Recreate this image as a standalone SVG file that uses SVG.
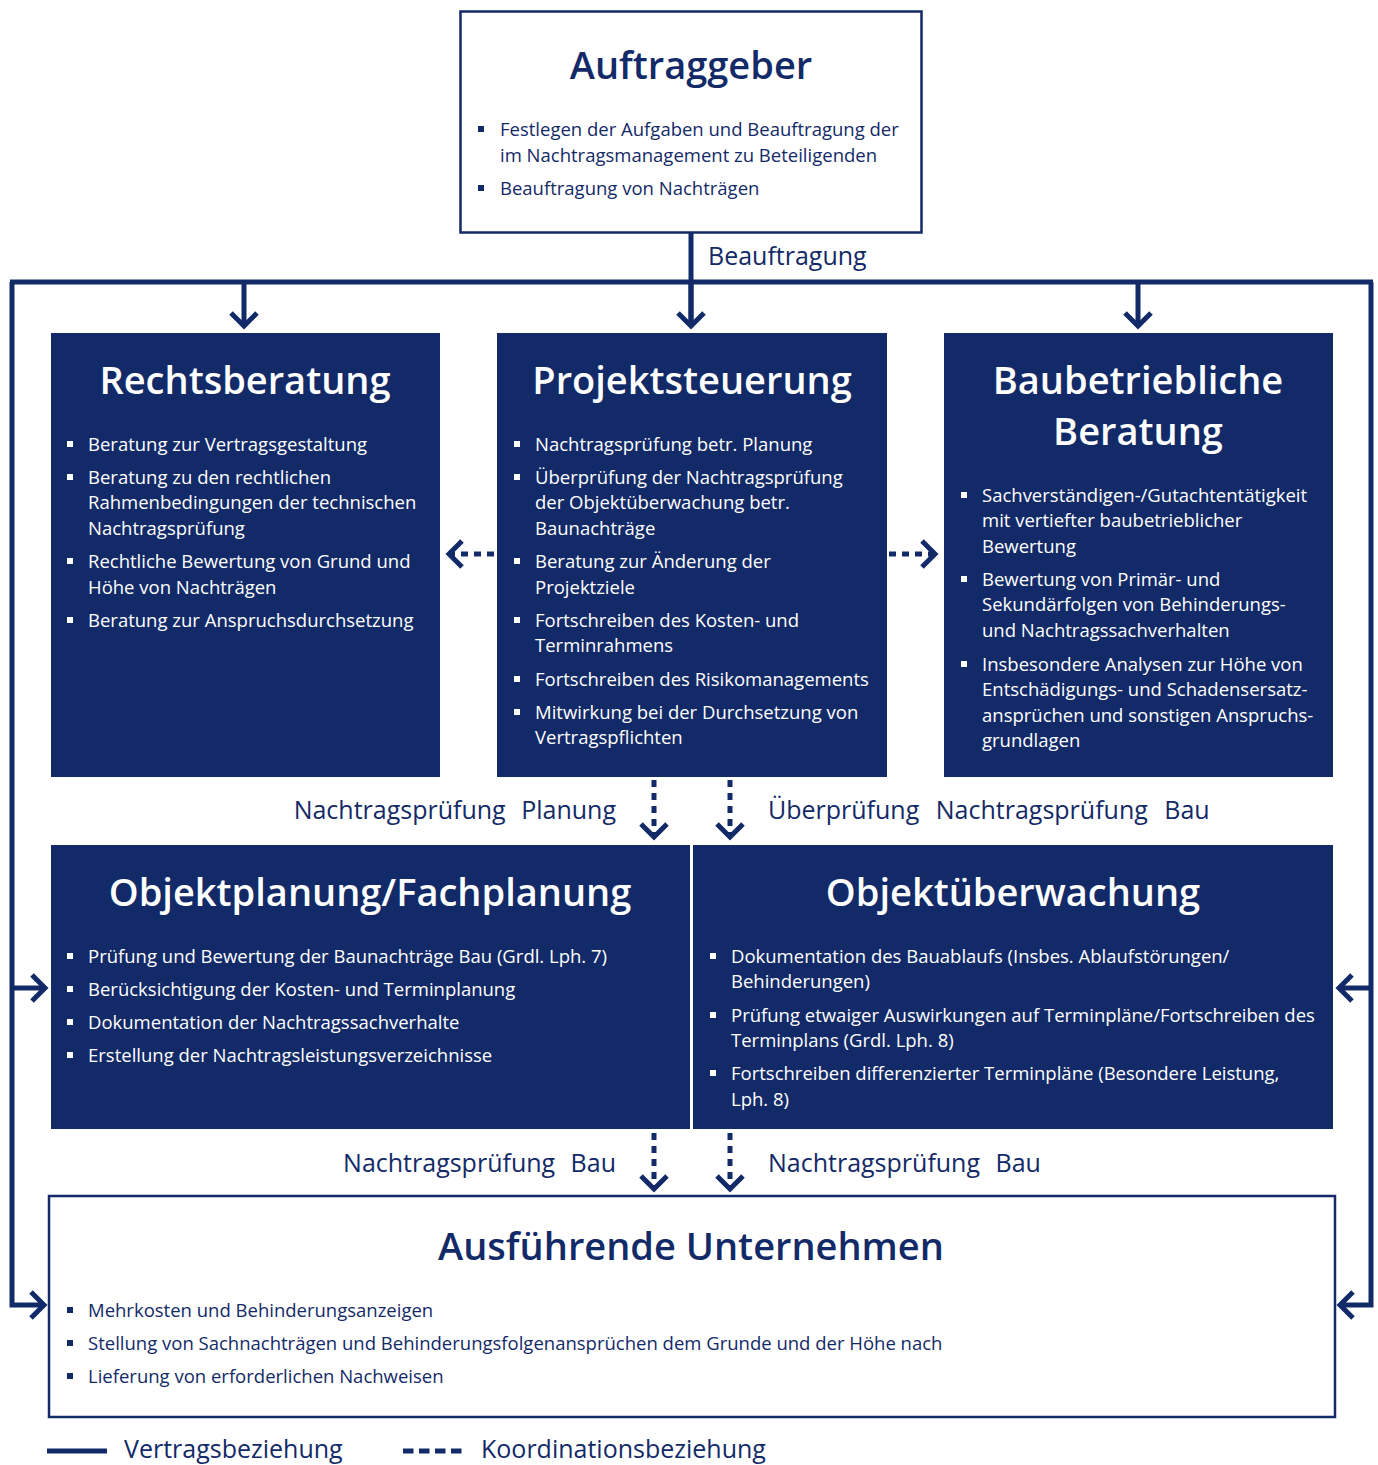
<svg xmlns="http://www.w3.org/2000/svg" width="1378" height="1465" viewBox="0 0 1378 1465">
<style>
.box{fill:#132a68}
.wbox{fill:#fff;stroke:#132a68;stroke-width:2.5}
.ttl{font-family:"Open Sans","Noto Sans",sans-serif;font-size:38px;font-weight:600;text-anchor:middle}
.tw{fill:#fff}
.tn{fill:#132a68}
.b{font-family:"Open Sans","Noto Sans",sans-serif;font-size:18.5px;font-weight:400}
.lbl{font-family:"Open Sans","Noto Sans",sans-serif;font-size:25px;font-weight:400;fill:#132a68}
.ln{fill:none;stroke:#132a68;stroke-width:5}
.dl{fill:none;stroke:#132a68;stroke-width:5;stroke-dasharray:7 6}
.sqw{fill:#fff}
.sqn{fill:#132a68}
</style>
<defs>
<marker id="ah" markerUnits="userSpaceOnUse" markerWidth="40" markerHeight="40" refX="0" refY="0" viewBox="-20 -20 40 40" orient="auto" overflow="visible">
<path d="M-13,-13 L0,0 L-13,13" fill="none" stroke="#132a68" stroke-width="5" stroke-linejoin="miter"/>
</marker>
</defs>

<g id="connectors">
<path class="ln" d="M691,233 V326"/>
<path class="ln" d="M10,282 H1373"/>
<path class="ln" d="M244,282 V326" marker-end="url(#ah)"/>
<path class="ln" d="M691,282 V326" marker-end="url(#ah)"/>
<path class="ln" d="M1138,282 V326" marker-end="url(#ah)"/>
<path class="ln" d="M12,282 V1305 H44" marker-end="url(#ah)"/>
<path class="ln" d="M12,988 H45" marker-end="url(#ah)"/>
<path class="ln" d="M1371,282 V1305 H1340" marker-end="url(#ah)"/>
<path class="ln" d="M1371,988 H1339" marker-end="url(#ah)"/>
<path class="dl" d="M494,554 H449" marker-end="url(#ah)"/>
<path class="dl" d="M889,554 H935" marker-end="url(#ah)"/>
<path class="dl" d="M654,780 V837" marker-end="url(#ah)"/>
<path class="dl" d="M730,780 V837" marker-end="url(#ah)"/>
<path class="dl" d="M654,1133 V1189" marker-end="url(#ah)"/>
<path class="dl" d="M730,1133 V1189" marker-end="url(#ah)"/>
<text class="lbl" x="708" y="265">Beauftragung</text>
<text class="lbl" x="616" y="819" text-anchor="end" word-spacing="9">Nachtragsprüfung Planung</text>
<text class="lbl" x="768" y="819" word-spacing="10">Überprüfung Nachtragsprüfung Bau</text>
<text class="lbl" x="616" y="1172" text-anchor="end" word-spacing="9">Nachtragsprüfung Bau</text>
<text class="lbl" x="768" y="1172" word-spacing="9">Nachtragsprüfung Bau</text>
</g>

<g id="auftraggeber">
<rect class="wbox" x="460.5" y="11.5" width="461" height="221"/>
<text class="ttl tn" x="691" y="79">Auftraggeber</text>
<g class="b tn">
<rect class="sqn" x="478" y="126" width="6" height="6"/>
<text x="500" y="136">Festlegen der Aufgaben und Beauftragung der</text>
<text x="500" y="162">im Nachtragsmanagement zu Beteiligenden</text>
<rect class="sqn" x="478" y="185" width="6" height="6"/>
<text x="500" y="195">Beauftragung von Nachträgen</text>
</g>
</g>

<g id="rechtsberatung">
<rect class="box" x="51" y="333" width="389" height="444"/>
<text class="ttl tw" x="245" y="394">Rechtsberatung</text>
<g class="b tw">
<rect class="sqw" x="67" y="441" width="6" height="6"/>
<text x="88" y="451">Beratung zur Vertragsgestaltung</text>
<rect class="sqw" x="67" y="474" width="6" height="6"/>
<text x="88" y="484">Beratung zu den rechtlichen</text>
<text x="88" y="509">Rahmenbedingungen der technischen</text>
<text x="88" y="535">Nachtragsprüfung</text>
<rect class="sqw" x="67" y="558" width="6" height="6"/>
<text x="88" y="568">Rechtliche Bewertung von Grund und</text>
<text x="88" y="594">Höhe von Nachträgen</text>
<rect class="sqw" x="67" y="617" width="6" height="6"/>
<text x="88" y="627">Beratung zur Anspruchsdurchsetzung</text>
</g>
</g>

<g id="projektsteuerung">
<rect class="box" x="497" y="333" width="390" height="444"/>
<text class="ttl tw" x="692" y="394">Projektsteuerung</text>
<g class="b tw">
<rect class="sqw" x="514" y="441" width="6" height="6"/>
<text x="535" y="451">Nachtragsprüfung betr. Planung</text>
<rect class="sqw" x="514" y="474" width="6" height="6"/>
<text x="535" y="484">Überprüfung der Nachtragsprüfung</text>
<text x="535" y="509">der Objektüberwachung betr.</text>
<text x="535" y="535">Baunachträge</text>
<rect class="sqw" x="514" y="558" width="6" height="6"/>
<text x="535" y="568">Beratung zur Änderung der</text>
<text x="535" y="594">Projektziele</text>
<rect class="sqw" x="514" y="617" width="6" height="6"/>
<text x="535" y="627">Fortschreiben des Kosten- und</text>
<text x="535" y="652">Terminrahmens</text>
<rect class="sqw" x="514" y="676" width="6" height="6"/>
<text x="535" y="686">Fortschreiben des Risikomanagements</text>
<rect class="sqw" x="514" y="709" width="6" height="6"/>
<text x="535" y="719">Mitwirkung bei der Durchsetzung von</text>
<text x="535" y="744">Vertragspflichten</text>
</g>
</g>

<g id="baubetriebliche-beratung">
<rect class="box" x="944" y="333" width="389" height="444"/>
<text class="ttl tw" x="1138" y="394">Baubetriebliche</text>
<text class="ttl tw" x="1138" y="445">Beratung</text>
<g class="b tw">
<rect class="sqw" x="961" y="492" width="6" height="6"/>
<text x="982" y="502">Sachverständigen-/Gutachtentätigkeit</text>
<text x="982" y="527">mit vertiefter baubetrieblicher</text>
<text x="982" y="553">Bewertung</text>
<rect class="sqw" x="961" y="576" width="6" height="6"/>
<text x="982" y="586">Bewertung von Primär- und</text>
<text x="982" y="611">Sekundärfolgen von Behinderungs-</text>
<text x="982" y="637">und Nachtragssachverhalten</text>
<rect class="sqw" x="961" y="661" width="6" height="6"/>
<text x="982" y="671">Insbesondere Analysen zur Höhe von</text>
<text x="982" y="696">Entschädigungs- und Schadensersatz-</text>
<text x="982" y="722">ansprüchen und sonstigen Anspruchs-</text>
<text x="982" y="747">grundlagen</text>
</g>
</g>

<g id="objektplanung">
<rect class="box" x="51" y="845" width="639" height="284"/>
<text class="ttl tw" x="370" y="906">Objektplanung/Fachplanung</text>
<g class="b tw">
<rect class="sqw" x="67" y="953" width="6" height="6"/>
<text x="88" y="963">Prüfung und Bewertung der Baunachträge Bau (Grdl. Lph. 7)</text>
<rect class="sqw" x="67" y="986" width="6" height="6"/>
<text x="88" y="996">Berücksichtigung der Kosten- und Terminplanung</text>
<rect class="sqw" x="67" y="1019" width="6" height="6"/>
<text x="88" y="1029">Dokumentation der Nachtragssachverhalte</text>
<rect class="sqw" x="67" y="1052" width="6" height="6"/>
<text x="88" y="1062">Erstellung der Nachtragsleistungsverzeichnisse</text>
</g>
</g>

<g id="objektueberwachung">
<rect class="box" x="693" y="845" width="640" height="284"/>
<text class="ttl tw" x="1013" y="906">Objektüberwachung</text>
<g class="b tw">
<rect class="sqw" x="710" y="953" width="6" height="6"/>
<text x="731" y="963">Dokumentation des Bauablaufs (Insbes. Ablaufstörungen/</text>
<text x="731" y="988">Behinderungen)</text>
<rect class="sqw" x="710" y="1012" width="6" height="6"/>
<text x="731" y="1022">Prüfung etwaiger Auswirkungen auf Terminpläne/Fortschreiben des</text>
<text x="731" y="1047">Terminplans (Grdl. Lph. 8)</text>
<rect class="sqw" x="710" y="1070" width="6" height="6"/>
<text x="731" y="1080">Fortschreiben differenzierter Terminpläne (Besondere Leistung,</text>
<text x="731" y="1106">Lph. 8)</text>
</g>
</g>

<g id="ausfuehrende-unternehmen">
<rect class="wbox" x="49" y="1196" width="1286" height="221"/>
<text class="ttl tn" x="691" y="1260">Ausführende Unternehmen</text>
<g class="b tn">
<rect class="sqn" x="67" y="1307" width="6" height="6"/>
<text x="88" y="1317">Mehrkosten und Behinderungsanzeigen</text>
<rect class="sqn" x="67" y="1340" width="6" height="6"/>
<text x="88" y="1350">Stellung von Sachnachträgen und Behinderungsfolgenansprüchen dem Grunde und der Höhe nach</text>
<rect class="sqn" x="67" y="1373" width="6" height="6"/>
<text x="88" y="1383">Lieferung von erforderlichen Nachweisen</text>
</g>
</g>

<g id="legend">
<path class="ln" d="M47,1451 H107"/>
<text class="lbl" x="124" y="1458">Vertragsbeziehung</text>
<path class="ln" d="M403,1451 H463" stroke-dasharray="10.5 5.5"/>
<text class="lbl" x="481" y="1458">Koordinationsbeziehung</text>
</g>
</svg>
